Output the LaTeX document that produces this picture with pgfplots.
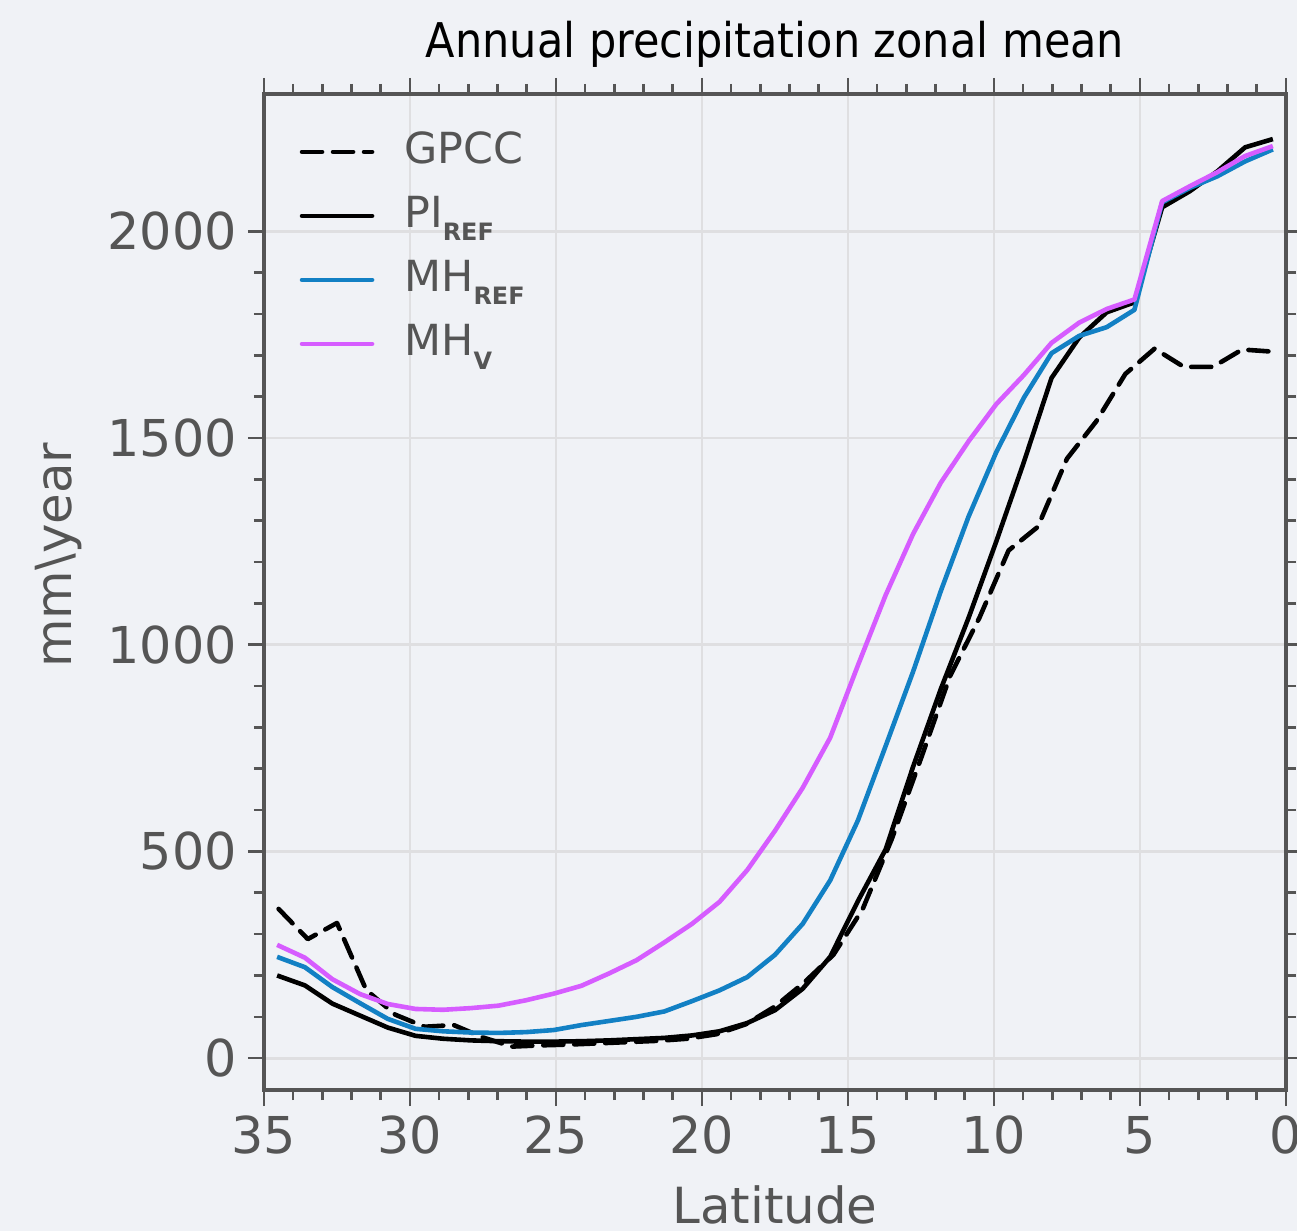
\documentclass[border=0pt]{standalone}
\usepackage{pgfplots}
\pgfplotsset{compat=1.18}
\usepackage{fontspec}
\setmainfont{DejaVu Sans}
\newfontfamily\titlefont[FakeStretch=0.9]{DejaVu Sans}
\definecolor{bg}{RGB}{240,242,246}
\definecolor{gridc}{RGB}{223,223,225}
\definecolor{axc}{RGB}{85,85,85}
\definecolor{txt}{RGB}{85,85,85}
\definecolor{mhref}{RGB}{18,128,196}
\definecolor{mhv}{RGB}{214,92,255}

\pgfplotstableread{
lat v
34.5 361
33.5 288
32.5 327
31.5 165
30.5 105
29.5 76
28.5 80
27.5 50
26.5 28
25.5 31
24.5 33
23.5 36
22.5 39
21.5 42
20.5 47
19.5 58
18.5 82
17.5 125
16.5 183
15.5 250
14.5 360
13.5 530
12.5 725
11.5 925
10.5 1065
9.5 1228
8.5 1285
7.5 1450
6.5 1540
5.5 1655
4.5 1716
3.5 1672
2.5 1672
1.5 1714
0.5 1709
}\gpcc

\pgfplotstableread{
lat pi mhref mhv
34.55 200 245 274
33.60 176 220 243
32.66 132 172 191
31.71 103 133 155
30.76 74 95 131
29.81 54 71 119
28.87 47 65 117
27.92 43 62 121
26.97 41 61 127
26.03 40 63 140
25.08 40 68 156
24.13 41 80 175
23.18 43 90 205
22.24 46 100 237
21.29 49 113 280
20.34 55 138 325
19.40 65 164 378
18.45 85 196 455
17.50 116 250 550
16.55 168 325 654
15.61 245 430 775
14.66 380 575 950
13.71 505 755 1120
12.77 705 935 1268
11.82 893 1130 1392
10.87 1065 1310 1492
9.92 1250 1466 1582
8.98 1441 1597 1652
8.03 1645 1705 1730
7.08 1743 1747 1779
6.14 1804 1768 1812
5.19 1828 1810 1835
4.24 2058 2070 2073
3.29 2097 2105 2109
2.35 2145 2133 2143
1.40 2203 2169 2182
0.45 2223 2198 2206
}\models

\begin{document}
\begin{tikzpicture}
\fill[bg] (-132bp,-70.5bp) rectangle (516.5bp,545bp);
\begin{axis}[
  at={(0,0)}, anchor=south west,
  scale only axis, width=511bp, height=498bp,
  x dir=reverse,
  xmin=0, xmax=35, ymin=-77, ymax=2332,
  xtick={0,5,...,35}, minor x tick num=4,
  ytick={0,500,1000,1500,2000}, minor y tick num=4,
  tick align=outside,
  major tick length=8bp, minor tick length=5bp,
  every tick/.style={axc, line width=1.3bp},
  axis line style={axc, line width=2bp},
  grid=major,
  major grid style={gridc, line width=1.4bp},
  /pgf/number format/assume math mode=true,
  /pgf/number format/1000 sep={},
  tick label style={font=\fontsize{25.5}{30}\selectfont, text=txt},
  yticklabel style={xshift=-2bp},
  xticklabel style={yshift=-1.5bp},
  title={\titlefont\fontsize{24}{28}\selectfont Annual precipitation zonal mean},
  title style={at={(axis description cs:0.5,1.0251)}, anchor=base, inner sep=0pt, text=black},
  xlabel={Latitude},
  xlabel style={at={(axis description cs:0.5,-0.1345)}, anchor=base, inner sep=0pt, font=\fontsize{25}{30}\selectfont, text=txt},
  ylabel={mm\textbackslash year},
  ylabel style={at={(axis description cs:-0.1879,0.537)}, anchor=base, inner sep=0pt, font=\fontsize{25}{30}\selectfont, text=txt},
  legend cell align=left,
  legend style={at={(axis description cs:0.035,0.968)}, anchor=north west,
    draw=none, fill=none, inner sep=0pt, outer sep=0pt,
    font=\fontsize{21.5}{26}\selectfont, text=txt,
    row sep=6bp, column sep=15bp,
    nodes={inner sep=0pt, text height=19bp, text depth=7bp}},
  legend image code/.code={\draw[#1, line cap=round] (0bp,0bp) -- (35bp,0bp);},
]
\addplot[black, line width=2.3bp, line cap=round, line join=round, dash pattern=on 10bp off 5.5bp] table[x=lat, y=v] {\gpcc};
\addlegendentry{GPCC}
\addplot[black, line width=2.3bp, line join=round] table[x=lat, y=pi] {\models};
\addlegendentry{PI\raisebox{-6.5bp}{\fontsize{12}{12}\selectfont\bfseries REF}}
\addplot[mhref, line width=2.3bp, line join=round] table[x=lat, y=mhref] {\models};
\addlegendentry{MH\raisebox{-6.5bp}{\fontsize{12}{12}\selectfont\bfseries REF}}
\addplot[mhv, line width=2.3bp, line join=round] table[x=lat, y=mhv] {\models};
\addlegendentry{MH\raisebox{-7bp}{\fontsize{12}{12}\selectfont\bfseries V}}
\end{axis}
\pgfresetboundingbox
\path[use as bounding box] (-132bp,-70.5bp) rectangle (516.5bp,545bp);
\end{tikzpicture}
\end{document}
